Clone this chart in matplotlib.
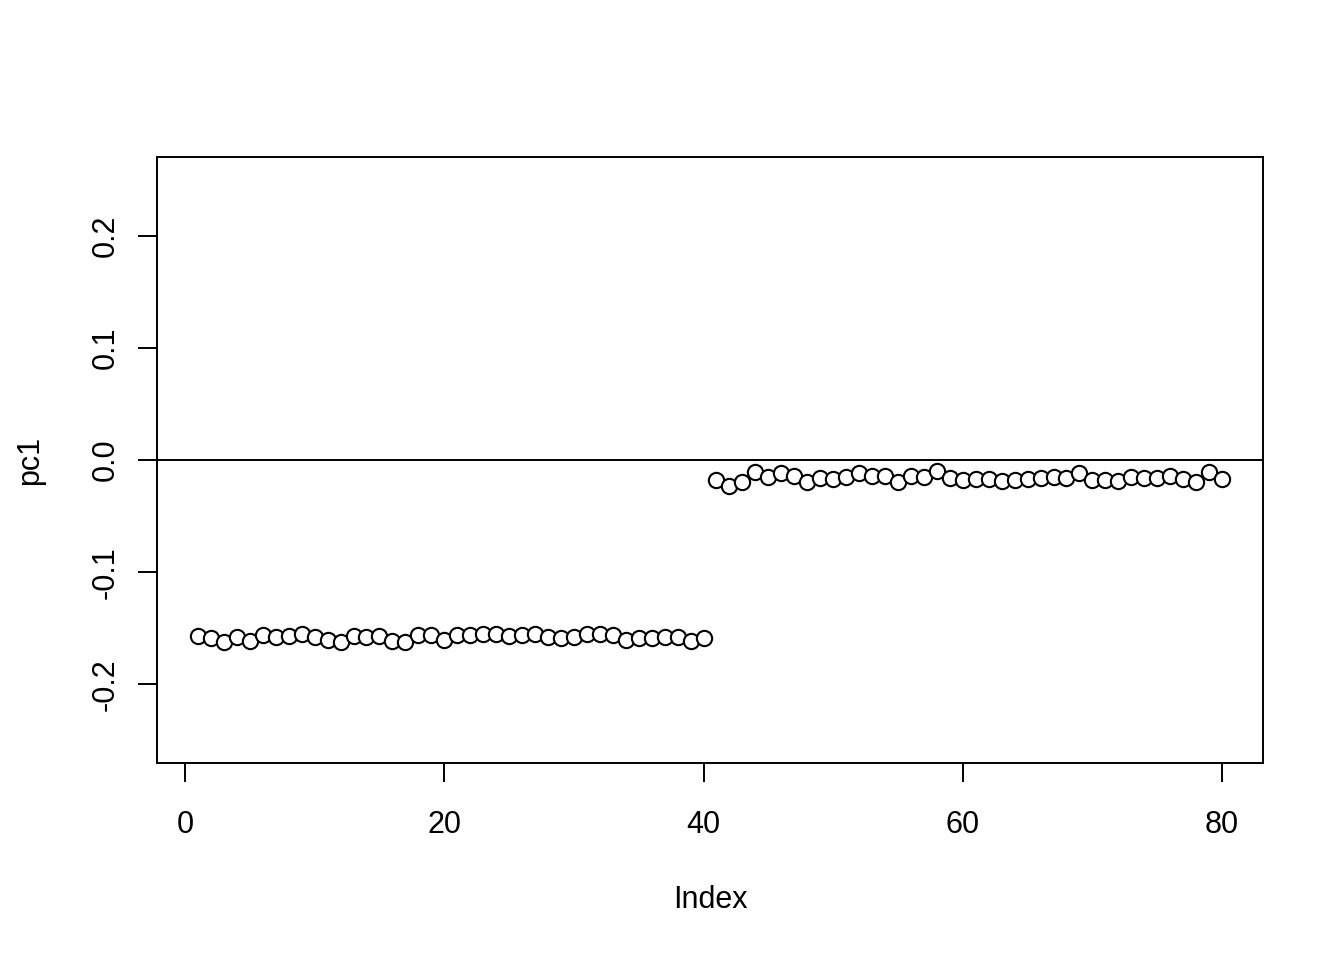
import matplotlib
matplotlib.use('Agg')
import matplotlib.pyplot as plt

plt.rcParams['font.family'] = ['Liberation Sans', 'DejaVu Sans']

# pc1 values (index 1..80)
pc1_first = [-0.157, -0.159, -0.162, -0.158, -0.161, -0.156, -0.158, -0.157, -0.155, -0.158,
             -0.160, -0.162, -0.157, -0.158, -0.157, -0.161, -0.162, -0.156, -0.156, -0.160,
             -0.156, -0.156, -0.155, -0.155, -0.157, -0.156, -0.155, -0.158, -0.159, -0.158,
             -0.155, -0.155, -0.156, -0.160, -0.159, -0.159, -0.158, -0.158, -0.161, -0.159]
pc1_second = [-0.018, -0.023, -0.020, -0.011, -0.015, -0.012, -0.014, -0.020, -0.016, -0.017,
              -0.015, -0.012, -0.014, -0.014, -0.020, -0.014, -0.015, -0.010, -0.016, -0.018,
              -0.017, -0.017, -0.019, -0.018, -0.017, -0.016, -0.015, -0.016, -0.012, -0.018,
              -0.018, -0.019, -0.015, -0.016, -0.016, -0.014, -0.017, -0.020, -0.011, -0.017]
pc1 = pc1_first + pc1_second
index = list(range(1, len(pc1) + 1))

xticks = [0, 20, 40, 60, 80]
yticks = [-0.2, -0.1, 0.0, 0.1, 0.2]

fig = plt.figure(figsize=(13.44, 9.6), dpi=100)
ax = fig.add_axes([157/1344, 1 - 763/960, (1263-157)/1344, (763-157)/960])

ax.plot(index, pc1, 'o', markerfacecolor='white', markeredgecolor='black',
        markersize=11, markeredgewidth=1.5)
ax.axhline(0, color='black', linewidth=1.4)

# R default 4% padding
ax.set_xlim(1 - 79*0.04, 80 + 79*0.04)
ax.set_ylim(-0.25*1.08, 0.25*1.08)
ax.set_xticks(xticks)
ax.set_yticks(yticks)
ax.set_yticklabels(['%.1f' % v for v in yticks], rotation=90, va='center')

for s in ax.spines.values():
    s.set_linewidth(1.4)

ax.tick_params(axis='both', length=14, width=1.4, labelsize=22)
ax.tick_params(axis='x', pad=20)
ax.tick_params(axis='y', pad=12)

fig.text(710/1344, 1 - 900/960, 'Index', fontsize=22, ha='center', va='center')
fig.text(30/1344, 1 - 460/960, 'pc1', fontsize=22, ha='center', va='center', rotation=90)

fig.savefig('out.png', dpi=100)
